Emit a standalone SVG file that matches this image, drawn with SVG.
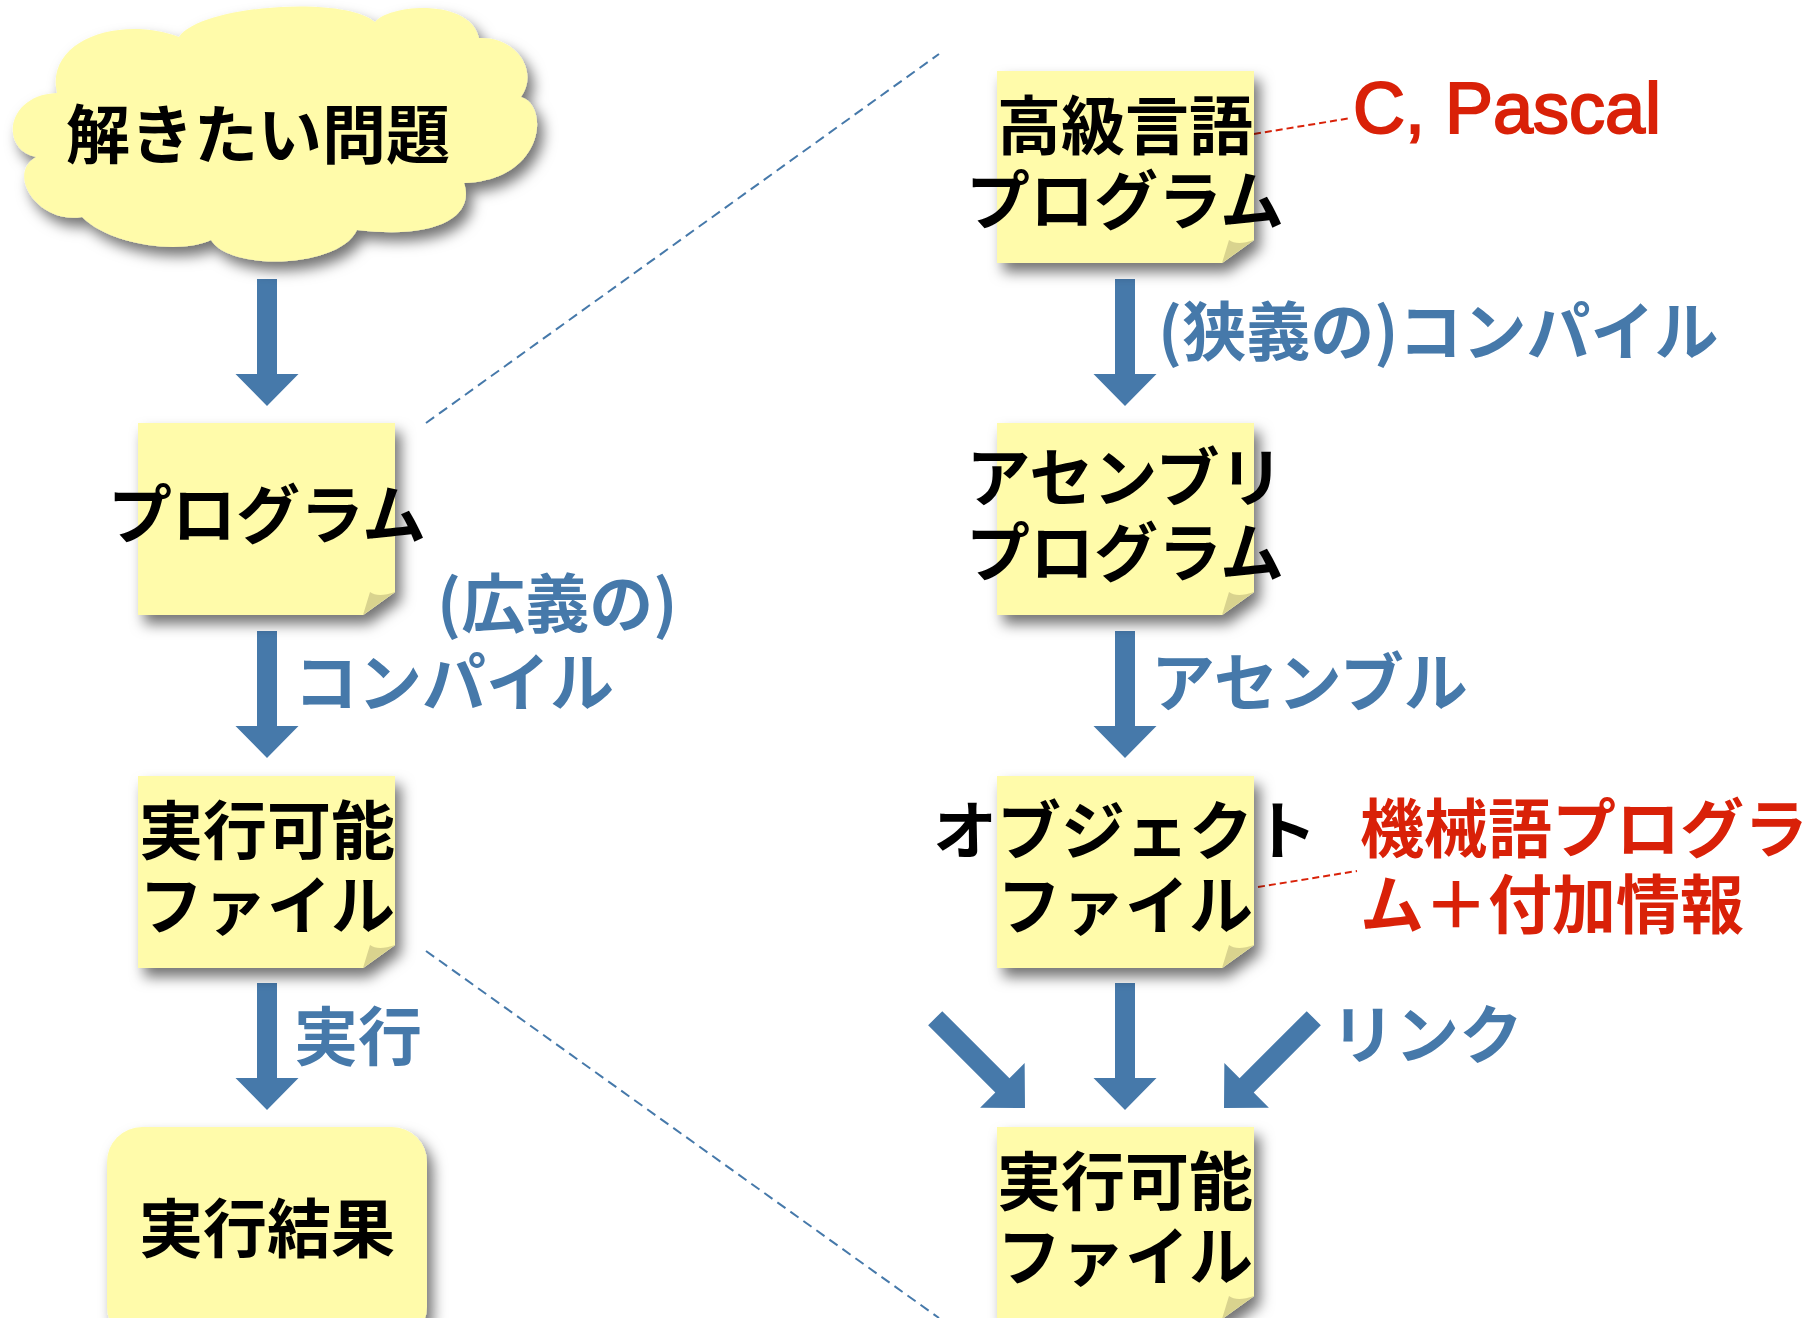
<svg xmlns="http://www.w3.org/2000/svg" width="1807" height="1318" viewBox="0 0 1807 1318">
<defs>
<filter id="sh" x="-20%" y="-20%" width="150%" height="150%">
<feDropShadow dx="6" dy="9" stdDeviation="7" flood-color="#000" flood-opacity="0.55"/>
</filter>
<path id="arr" d="M-10,-127 H10 V-32 H31.5 L0,0 L-31.5,-32 H-10 Z"/>
</defs>
<style>
.note{fill:#FFFBAA;filter:url(#sh)}
.fold{fill:#D9D38E}
.t{font-family:"Noto Sans CJK JP","Noto Sans CJK SC",sans-serif;font-weight:700;font-size:64px}
.c{text-anchor:middle}
.blk{fill:#000}
.blu{fill:#4679AA}
.red{fill:#D92108}
.arrow{fill:#4679AA}
.dash{stroke:#4679AA;stroke-width:2;stroke-dasharray:10 6;fill:none}
.rdash{stroke:#D92108;stroke-width:2;stroke-dasharray:7 4;fill:none}
.lat{font-family:"Liberation Sans",Arial,sans-serif;font-size:72px;fill:#D92108;stroke:#D92108;stroke-width:2}
</style>
<rect width="1807" height="1318" fill="#fff"/>

<g id="connectors">
<path class="dash" d="M426,423 L939,54"/>
<path class="dash" d="M426,951 L939,1318"/>
<path class="rdash" d="M1254,134 L1351,118"/>
<path class="rdash" d="M1258,887 L1357,871"/>
<use href="#arr" class="arrow" transform="translate(267,406)"/>
<use href="#arr" class="arrow" transform="translate(267,758)"/>
<use href="#arr" class="arrow" transform="translate(267,1110)"/>
<use href="#arr" class="arrow" transform="translate(1125,406)"/>
<use href="#arr" class="arrow" transform="translate(1125,758)"/>
<use href="#arr" class="arrow" transform="translate(1125,1110)"/>
<use href="#arr" class="arrow" transform="translate(1025,1108) rotate(-45)"/>
<use href="#arr" class="arrow" transform="translate(1224,1108) rotate(45)"/>
<text class="t blu"><tspan x="437" y="627">(広義の)</tspan><tspan x="294" y="706">コンパイル</tspan></text>
<text class="t blu" x="294" y="1060">実行</text>
<text class="t blu" x="1158" y="355">(狭義の)コンパイル</text>
<text class="t blu" x="1151" y="706">アセンブル</text>
<text class="t blu" x="1331" y="1058">リンク</text>
</g>

<g id="cloud">
<path class="note" d="M57,93 C45,40 120,15 179,37 C200,5 345,-5 375,22 C390,4 470,-2 479,38 C515,36 540,70 521,97 C550,105 545,180 464,183 C475,215 440,240 357,230 C340,268 230,272 211,240 C180,255 110,245 82,217 C40,225 5,175 36,157 C0,150 5,95 57,93 Z"/>
<text class="t blk c" x="258" y="158">解きたい問題</text>
</g>

<g id="note-program">
<path class="note" d="M138,423 H395 V592 L363,615 H138 Z"/>
<path class="fold" d="M363,615 L370,592 Q378,598 395,592 Z"/>
<text class="t blk c" x="267" y="538">プログラム</text>
</g>

<g id="note-exe-left">
<path class="note" d="M138,776 H395 V945 L363,968 H138 Z"/>
<path class="fold" d="M363,968 L370,945 Q378,951 395,945 Z"/>
<text class="t blk c"><tspan x="267" y="854">実行可能</tspan><tspan x="267" y="929">ファイル</tspan></text>
</g>

<g id="result">
<rect class="note" x="107" y="1127" width="320" height="215" rx="35"/>
<text class="t blk c" x="267" y="1252">実行結果</text>
</g>

<g id="note-hll">
<path class="note" d="M997,71 H1254 V240 L1222,263 H997 Z"/>
<path class="fold" d="M1222,263 L1229,240 Q1237,246 1254,240 Z"/>
<text class="t blk c"><tspan x="1125" y="149">高級言語</tspan><tspan x="1125" y="224">プログラム</tspan></text>
</g>

<g id="note-asm">
<path class="note" d="M997,423 H1254 V592 L1222,615 H997 Z"/>
<path class="fold" d="M1222,615 L1229,592 Q1237,598 1254,592 Z"/>
<text class="t blk c"><tspan x="1125" y="501">アセンブリ</tspan><tspan x="1125" y="576">プログラム</tspan></text>
</g>

<g id="note-obj">
<path class="note" d="M997,776 H1254 V945 L1222,968 H997 Z"/>
<path class="fold" d="M1222,968 L1229,945 Q1237,951 1254,945 Z"/>
<text class="t blk c"><tspan x="1125" y="854">オブジェクト</tspan><tspan x="1125" y="929">ファイル</tspan></text>
</g>

<g id="note-exe-right">
<path class="note" d="M997,1127 H1254 V1296 L1222,1319 H997 Z"/>
<path class="fold" d="M1222,1319 L1229,1296 Q1237,1302 1254,1296 Z"/>
<text class="t blk c"><tspan x="1125" y="1205">実行可能</tspan><tspan x="1125" y="1280">ファイル</tspan></text>
</g>

<g id="ann-pascal">
<text class="lat" x="1353" y="133">C, Pascal</text>
</g>

<g id="ann-machine">
<text class="t red"><tspan x="1360" y="852">機械語プログラ</tspan><tspan x="1360" y="928">ム＋付加情報</tspan></text>
</g>
</svg>
